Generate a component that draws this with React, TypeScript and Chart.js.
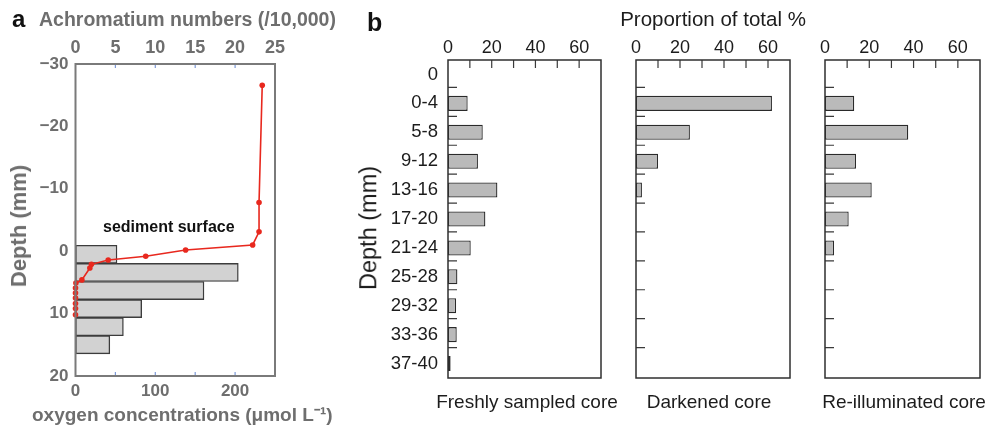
import React, { useEffect, useRef } from 'react';
import { Chart, registerables } from 'chart.js';

Chart.register(...registerables);

// ---------------- Panel a data ----------------
// Achromatium numbers (/10,000) per depth bin (bin centre, mm)
const achromatiumBinDepth = [0.5, 3.4, 6.3, 9.2, 12.1, 15.0];
const achromatiumCount = [5.2, 20.4, 16.1, 8.3, 6.0, 4.3];
// Oxygen profile
const oxygenDepth = [-26.6, -7.8, -3.1, -1.0, -0.2, 0.8, 1.4, 2.1, 2.7, 4.6, 5.1, 5.9, 6.7, 7.5, 8.4, 9.2, 10.2];
const oxygenConc = [234, 230, 230, 222, 138, 88, 41, 20, 18, 8, 0.5, 0, 0, 0, 0, 0, 0];
const achromatiumTickMarks = [5, 10, 15, 20];
const oxygenTickMarks = [50, 100, 150, 200];
const oxygenLabelledTicks = [0, 100, 200];

// ---------------- Panel b data ----------------
const depthBins = ['0', '0-4', '5-8', '9-12', '13-16', '17-20', '21-24', '25-28', '29-32', '33-36', '37-40'];
const freshlySampled = [0, 9.0, 15.9, 13.7, 22.6, 17.1, 10.4, 4.3, 3.7, 4.0, 1.2];
const darkened = [0, 61.8, 24.5, 10.0, 2.7, 0, 0, 0, 0, 0, 0];
const reIlluminated = [0, 13.2, 37.6, 14.0, 21.1, 10.7, 4.1, 0, 0, 0, 0];
const proportionTickMarks = [10, 20, 30, 40, 50, 60];
const proportionLabelledTicks = [0, 20, 40, 60];

const FONT = '"Liberation Sans", Arial, Helvetica, sans-serif';
const GREY = '#6e6e6e';
const INK = '#1c1c1c';
const RED = '#e8281e';
const H = 428;

type TickSpec = {
  scaleId: string;
  side: 'top' | 'bottom' | 'left';
  values?: number[];
  len: number;
  color: string;
  width: number;
};

function framePlugin(frameColor: string, frameWidth: number, ticks: TickSpec[]) {
  return {
    id: 'frameTicks',
    afterDatasetsDraw(chart: any) {
      const { ctx, chartArea: a, scales } = chart;
      ctx.save();
      for (const t of ticks) {
        const s = scales[t.scaleId];
        ctx.strokeStyle = t.color;
        ctx.lineWidth = t.width;
        ctx.beginPath();
        if (t.side === 'left') {
          const n = s.getLabels ? s.getLabels().length : 0;
          for (let i = 1; i < n; i++) {
            const y = (s.getPixelForValue(i - 1) + s.getPixelForValue(i)) / 2 - 1.5;
            ctx.moveTo(a.left, y);
            ctx.lineTo(a.left + t.len, y);
          }
        } else {
          for (const v of t.values || []) {
            const x = s.getPixelForValue(v);
            const y0 = t.side === 'top' ? a.top : a.bottom;
            const y1 = t.side === 'top' ? a.top + t.len : a.bottom - t.len;
            ctx.moveTo(x, y0);
            ctx.lineTo(x, y1);
          }
        }
        ctx.stroke();
      }
      ctx.strokeStyle = frameColor;
      ctx.lineWidth = frameWidth;
      ctx.strokeRect(a.left, a.top, a.right - a.left, a.bottom - a.top);
      ctx.restore();
    },
  };
}

const noGrid = { display: false, drawTicks: false };
const noBorder = { display: false };

function panelAConfig(): any {
  const boldGrey = { family: FONT, size: 17, weight: 'bold' as const };
  const boldGreyTop = { family: FONT, size: 18, weight: 'bold' as const };
  return {
    type: 'bar',
    data: {
      datasets: [
        {
          type: 'line',
          label: 'Oxygen',
          indexAxis: 'y',
          data: oxygenDepth.map((d, i) => ({ x: oxygenConc[i], y: d })),
          xAxisID: 'xOxy',
          yAxisID: 'y',
          borderColor: RED,
          backgroundColor: RED,
          borderWidth: 1.6,
          pointRadius: 2.8,
          pointBorderWidth: 0,
          pointHoverRadius: 2.8,
          tension: 0,
          clip: false,
          order: 0,
        },
        {
          type: 'bar',
          label: 'Achromatium',
          indexAxis: 'y',
          data: achromatiumBinDepth.map((d, i) => ({ x: achromatiumCount[i], y: d })),
          xAxisID: 'xAch',
          yAxisID: 'y',
          backgroundColor: '#d2d2d2',
          borderColor: '#3c3c3c',
          borderWidth: 1.4,
          borderSkipped: false,
          barPercentage: 1,
          categoryPercentage: 1,
          order: 1,
        },
      ],
    },
    options: {
      indexAxis: 'y',
      responsive: false,
      maintainAspectRatio: false,
      animation: false,
      events: [],
      layout: { padding: { left: 0, right: 55, top: 0, bottom: 0 } },
      plugins: { legend: { display: false }, tooltip: { enabled: false } },
      scales: {
        y: {
          type: 'linear',
          position: 'left',
          reverse: true,
          min: -30,
          max: 20,
          offset: false,
          beginAtZero: false,
          ticks: {
            stepSize: 10,
            padding: 7,
            color: GREY,
            font: boldGrey,
            callback: (v: number) => (v < 0 ? '\u2212' + Math.abs(v) : String(v)),
          },
          grid: noGrid,
          border: noBorder,
          afterFit: (s: any) => {
            s.width = 75.5;
          },
        },
        xAch: {
          type: 'linear',
          axis: 'x',
          position: 'top',
          min: 0,
          max: 25,
          offset: false,
          ticks: { stepSize: 5, padding: 5, color: GREY, font: boldGreyTop, maxRotation: 0, autoSkip: false },
          grid: noGrid,
          border: noBorder,
          afterFit: (s: any) => {
            s.height = 64;
          },
        },
        xOxy: {
          type: 'linear',
          axis: 'x',
          position: 'bottom',
          min: 0,
          max: 250,
          offset: false,
          ticks: {
            stepSize: 50,
            padding: 5,
            color: GREY,
            font: boldGrey,
            maxRotation: 0,
            autoSkip: false,
            callback: (v: number) => (oxygenLabelledTicks.includes(v) ? String(v) : ''),
          },
          grid: noGrid,
          border: noBorder,
          afterFit: (s: any) => {
            s.height = 52;
          },
        },
      },
    },
    plugins: [
      framePlugin('#7a7a7a', 2, [
        { scaleId: 'xAch', side: 'top', values: achromatiumTickMarks, len: 4, color: '#7d9ad8', width: 1.2 },
        { scaleId: 'xOxy', side: 'bottom', values: oxygenTickMarks, len: 4, color: '#7d9ad8', width: 1.2 },
      ]),
    ],
  };
}

function coreConfig(values: number[], showY: boolean, padLeft: number, padRight: number): any {
  const yScale: any = {
    type: 'category',
    display: showY,
    position: 'left',
    offset: true,
    ticks: { padding: 10, color: INK, font: { family: FONT, size: 18.5 }, autoSkip: false },
    grid: noGrid,
    border: noBorder,
  };
  if (showY) {
    yScale.afterFit = (s: any) => {
      s.width = 88;
    };
  }
  return {
    type: 'bar',
    data: {
      labels: depthBins,
      datasets: [
        {
          data: values,
          backgroundColor: '#bababa',
          borderColor: '#2a2a2a',
          borderWidth: 1.3,
          borderSkipped: false,
          barPercentage: 0.52,
          categoryPercentage: 1,
        },
      ],
    },
    options: {
      indexAxis: 'y',
      responsive: false,
      maintainAspectRatio: false,
      animation: false,
      events: [],
      layout: { padding: { left: padLeft, right: padRight, top: 0, bottom: 50 } },
      plugins: { legend: { display: false }, tooltip: { enabled: false } },
      scales: {
        y: yScale,
        x: {
          type: 'linear',
          position: 'top',
          min: 0,
          max: 70,
          offset: false,
          ticks: {
            stepSize: 10,
            padding: 1,
            color: INK,
            font: { family: FONT, size: 18 },
            maxRotation: 0,
            autoSkip: false,
            callback: (v: number) => (proportionLabelledTicks.includes(v) ? String(v) : ''),
          },
          grid: noGrid,
          border: noBorder,
          afterFit: (s: any) => {
            s.height = 60;
          },
        },
      },
    },
    plugins: [
      framePlugin('#2f2f2f', 1.5, [
        { scaleId: 'x', side: 'top', values: proportionTickMarks, len: 8, color: '#3a3a3a', width: 1.2 },
        { scaleId: 'y', side: 'left', len: 9, color: '#3a3a3a', width: 1.2 },
      ]),
    ],
  };
}

function ChartCanvas({ left, width, build }: { left: number; width: number; build: () => any }) {
  const ref = useRef<HTMLCanvasElement>(null);
  useEffect(() => {
    const chart = new Chart(ref.current as HTMLCanvasElement, build());
    return () => chart.destroy();
  }, []);
  return (
    <canvas
      ref={ref}
      width={width}
      height={H}
      style={{ position: 'absolute', left, top: 0, width, height: H, display: 'block' }}
    />
  );
}

type LabelProps = {
  text: string;
  x: number;
  y: number;
  size: number;
  weight?: string;
  color?: string;
  align?: 'left' | 'center';
  rotate?: boolean;
};

function Label({ text, x, y, size, weight = 'normal', color = INK, align = 'left', rotate = false }: LabelProps) {
  const style: React.CSSProperties = {
    position: 'absolute',
    whiteSpace: 'nowrap',
    fontFamily: FONT,
    fontSize: size,
    fontWeight: weight as any,
    color,
    lineHeight: `${size}px`,
    left: x,
  };
  if (rotate) {
    style.top = y;
    style.transform = 'translate(-50%, -50%) rotate(-90deg)';
  } else {
    style.top = y - 0.8465 * size;
    if (align === 'center') style.transform = 'translateX(-50%)';
  }
  return <div style={style}>{text}</div>;
}

export default function App() {
  return (
    <div
      style={{
        position: 'absolute',
        left: 0,
        top: 0,
        width: 987,
        height: H,
        background: '#ffffff',
        overflow: 'hidden',
      }}
    >
      <ChartCanvas left={0} width={330} build={panelAConfig} />
      <ChartCanvas left={360} width={250} build={() => coreConfig(freshlySampled, true, 0, 9)} />
      <ChartCanvas left={610} width={190} build={() => coreConfig(darkened, false, 26, 10)} />
      <ChartCanvas left={800} width={187} build={() => coreConfig(reIlluminated, false, 25, 7)} />

      <Label text="a" x={12} y={27} size={24} weight="bold" color="#111" />
      <Label text="Achromatium numbers (/10,000)" x={39} y={27} size={19.5} weight="bold" color={GREY} />
      <Label text="sediment surface" x={103} y={233} size={16} weight="bold" color="#111" />
      <Label text={'oxygen concentrations (\u03bcmol L\u207b\u00b9)'} x={32} y={421} size={19} weight="bold" color={GREY} />
      <Label text="Depth (mm)" x={19} y={226} size={22} weight="bold" color={GREY} rotate />

      <Label text="b" x={367} y={31} size={25} weight="bold" color="#111" />
      <Label text="Proportion of total %" x={713} y={26} size={20.5} align="center" />
      <Label text="Depth (mm)" x={369} y={228} size={23.5} rotate />
      <Label text="Freshly sampled core" x={527} y={408} size={19} align="center" />
      <Label text="Darkened core" x={709} y={408} size={19} align="center" />
      <Label text="Re-illuminated core" x={904} y={408} size={19} align="center" />
    </div>
  );
}
